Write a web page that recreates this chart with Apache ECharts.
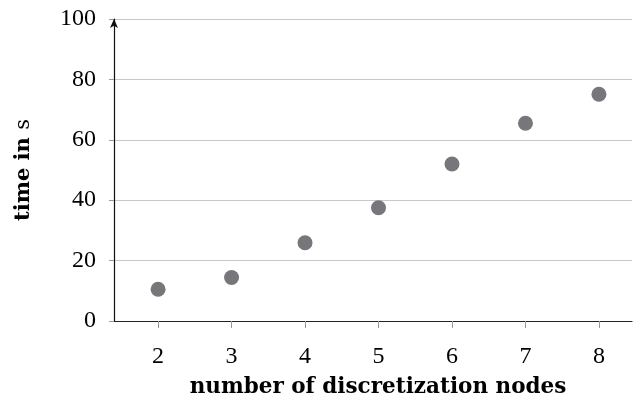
<!DOCTYPE html>
<html><head><meta charset="utf-8">
<script src="https://cdn.jsdelivr.net/npm/echarts@6/dist/echarts.min.js"></script>
<style>html,body{margin:0;padding:0;background:#fff}#c{width:633px;height:398px}</style>
</head><body><div id="c"></div>
<script>
const nodes = [2, 3, 4, 5, 6, 7, 8];
const timeSeconds = [10.5, 14.4, 25.9, 37.5, 52.0, 65.5, 75.1];
const xTicks = [2, 3, 4, 5, 6, 7, 8];
const yTicks = [0, 20, 40, 60, 80, 100];

const font = '"Liberation Serif", serif';
const nameFont = '"DejaVu Serif", serif';
const chart = echarts.init(document.getElementById('c'));
chart.setOption({
  animation: false,
  grid: { left: 114, right: 1, top: 19, bottom: 77, containLabel: false, outerBoundsMode: 'none' },
  xAxis: {
    type: 'value', min: 1.4, max: 8.45,
    name: 'number of discretization nodes', nameLocation: 'middle', nameGap: 55,
    nameTextStyle: { fontFamily: nameFont, fontWeight: 'bold', fontSize: 21.5, color: '#000', padding: [0, 0, 0, 10] },
    axisLine: { show: true, lineStyle: { color: '#222', width: 1.2 } },
    axisTick: { show: true, length: 7, lineStyle: { color: '#999' }, customValues: xTicks },
    axisLabel: { fontFamily: font, fontSize: 24, color: '#000', margin: 24, customValues: xTicks },
    splitLine: { show: false }
  },
  yAxis: {
    type: 'value', min: 0, max: 100, interval: 20,
    name: '{b|time in }{r|s}', nameLocation: 'middle', nameGap: 80, nameRotate: 90,
    nameTextStyle: { rich: {
      b: { fontFamily: nameFont, fontWeight: 'bold', fontSize: 21, color: '#000' },
      r: { fontFamily: nameFont, fontSize: 21, color: '#000' } } },
    axisLine: { show: true, symbol: ['none', 'arrow'], symbolSize: [6, 9], symbolOffset: [0, 0], lineStyle: { color: '#111', width: 1.2 } },
    axisTick: { show: true, length: 5, lineStyle: { color: '#999' } },
    axisLabel: { fontFamily: font, fontSize: 24, color: '#000', margin: 18,
      customValues: yTicks },
    splitLine: { show: true, lineStyle: { color: '#c8c8c8', width: 1 } }
  },
  series: [{
    type: 'scatter',
    data: nodes.map((n, i) => [n, timeSeconds[i]]),
    symbolSize: 15,
    itemStyle: { color: '#77777b', opacity: 1 }
  }]
});
</script></body></html>
